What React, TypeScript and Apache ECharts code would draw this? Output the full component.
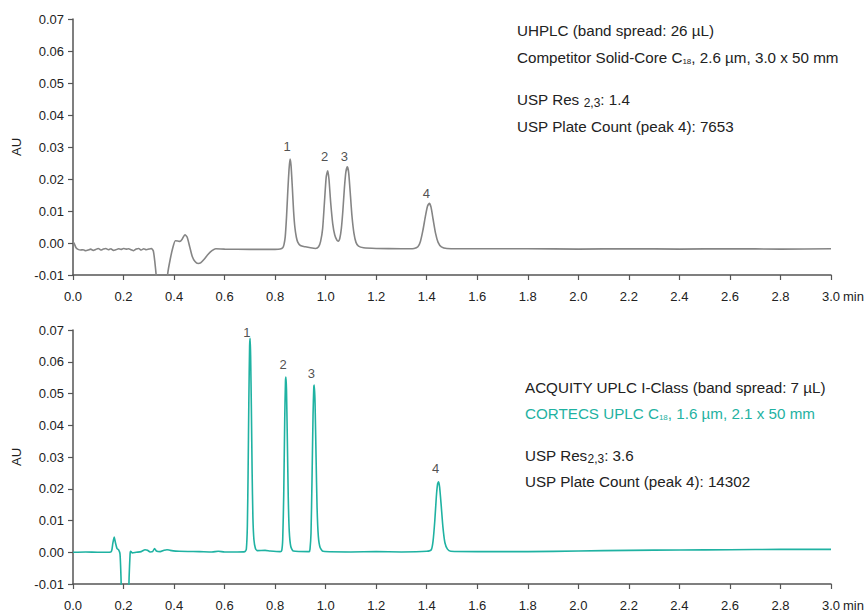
import React, { useEffect, useRef } from "react";
import * as echarts from "echarts";

// ---- data ----
const xTicksMin = 0;
const xTicksMax = 3;
const yMin = -0.01;
const yMax = 0.07;

// Top trace: competitor UHPLC (time min, AU)
const topTrace: [number, number][] = [
  [0.0, 0.0003], [0.005, -0.0002], [0.012, -0.0015], [0.02, -0.002], [0.03, -0.0022], [0.04, -0.0021],
  [0.05, -0.0024], [0.06, -0.0022], [0.07, -0.0019], [0.08, -0.0023], [0.09, -0.002], [0.1, -0.0017],
  [0.11, -0.0022], [0.12, -0.0019], [0.13, -0.0017], [0.14, -0.0021], [0.15, -0.0018], [0.16, -0.0023],
  [0.17, -0.0021], [0.18, -0.0018], [0.19, -0.002], [0.2, -0.0017], [0.21, -0.0019], [0.22, -0.0018],
  [0.23, -0.0021], [0.24, -0.0024], [0.25, -0.0019], [0.26, -0.0017], [0.27, -0.0022], [0.28, -0.0018],
  [0.29, -0.0021], [0.3, -0.0019], [0.31, -0.0017], [0.318, -0.0025], [0.324, -0.006], [0.33, -0.011],
  [0.335, -0.02], [0.345, -0.03], [0.36, -0.028], [0.368, -0.018], [0.375, -0.0095], [0.385, -0.005],
  [0.395, -0.0015], [0.405, 0.0007], [0.415, 0.0006], [0.423, 0.0005], [0.432, 0.0012], [0.443, 0.0026],
  [0.452, 0.0018], [0.462, -0.0012], [0.472, -0.0042], [0.483, -0.0058], [0.495, -0.0064], [0.505, -0.0062],
  [0.52, -0.005], [0.535, -0.0035], [0.55, -0.0024], [0.565, -0.0018], [0.6, -0.0019], [0.7, -0.002],
  [0.8, -0.002], [0.82, -0.0019],
  [0.83, -0.0015], [0.835, -0.0005], [0.84, 0.002], [0.845, 0.008], [0.85, 0.016], [0.855, 0.023],
  [0.859, 0.0262], [0.863, 0.0242], [0.868, 0.0175], [0.873, 0.01], [0.878, 0.005], [0.884, 0.0018],
  [0.89, 0.0002], [0.9, -0.0008], [0.92, -0.0012], [0.94, -0.0015], [0.96, -0.0017], [0.972, -0.0012],
  [0.98, 0.0005], [0.988, 0.0045], [0.995, 0.0125], [1.002, 0.0205], [1.008, 0.0226], [1.013, 0.02],
  [1.02, 0.0125], [1.028, 0.006], [1.036, 0.0025], [1.045, 0.0008], [1.05, 0.0006], [1.056, 0.0015],
  [1.062, 0.0045], [1.068, 0.01], [1.074, 0.017], [1.08, 0.0222], [1.086, 0.0238], [1.091, 0.022],
  [1.097, 0.016], [1.104, 0.0085], [1.112, 0.003], [1.12, 0.0002], [1.13, -0.001], [1.15, -0.0015],
  [1.2, -0.0017], [1.3, -0.0018], [1.35, -0.0017],
  [1.365, -0.0012], [1.375, 0.0005], [1.385, 0.004], [1.395, 0.0085], [1.403, 0.0115], [1.41, 0.0124],
  [1.417, 0.0112], [1.425, 0.0075], [1.435, 0.003], [1.445, 0.0002], [1.458, -0.0012], [1.48, -0.0017],
  [1.6, -0.0018], [1.8, -0.0018], [2.0, -0.0019], [2.2, -0.0018], [2.4, -0.0019], [2.6, -0.0018],
  [2.8, -0.0019], [3.0, -0.0018],
];

// Bottom trace: CORTECS on ACQUITY UPLC I-Class (time min, AU)
const bottomTrace: [number, number][] = [
  [0.0, 0.0], [0.05, 0.0001], [0.1, 0.0], [0.15, 0.0001], [0.154, 0.0008], [0.158, 0.003], [0.163, 0.0048],
  [0.168, 0.003], [0.174, 0.0012], [0.18, 0.0008], [0.186, -0.0005], [0.19, -0.008], [0.194, -0.02],
  [0.205, -0.03], [0.218, -0.02], [0.222, -0.008], [0.226, -0.0005], [0.228, 0.0003], [0.235, -0.0002],
  [0.25, 0.0], [0.27, 0.0002], [0.285, 0.0008], [0.295, 0.0006], [0.305, 0.0001], [0.315, 0.0002],
  [0.323, 0.0012], [0.33, 0.0004], [0.345, 0.0002], [0.36, 0.0006], [0.372, 0.0008], [0.385, 0.0006],
  [0.42, 0.0003], [0.5, 0.0002], [0.55, 0.0001], [0.575, 0.0003], [0.6, 0.0001], [0.65, 0.0001], [0.68, 0.0002],
  [0.686, 0.001], [0.69, 0.008], [0.693, 0.025], [0.696, 0.048], [0.699, 0.065], [0.701, 0.0674],
  [0.703, 0.062], [0.706, 0.045], [0.709, 0.025], [0.712, 0.011], [0.716, 0.004], [0.722, 0.0012],
  [0.73, 0.0005], [0.76, 0.0006], [0.78, 0.0004], [0.82, 0.0002],
  [0.826, 0.0005], [0.83, 0.004], [0.834, 0.018], [0.838, 0.042], [0.841, 0.054], [0.843, 0.0552],
  [0.845, 0.051], [0.848, 0.037], [0.852, 0.017], [0.856, 0.0065], [0.862, 0.0018], [0.872, 0.0004],
  [0.935, 0.0002],
  [0.938, 0.001], [0.942, 0.006], [0.946, 0.023], [0.95, 0.043], [0.953, 0.052], [0.955, 0.0527],
  [0.958, 0.047], [0.962, 0.03], [0.966, 0.014], [0.971, 0.005], [0.978, 0.0015], [0.99, 0.0003],
  [1.1, 0.0001], [1.2, 0.0002], [1.3, 0.0001], [1.4, 0.0003],
  [1.418, 0.0008], [1.425, 0.0035], [1.432, 0.01], [1.438, 0.0175], [1.443, 0.0215], [1.447, 0.0222],
  [1.451, 0.0205], [1.457, 0.015], [1.464, 0.008], [1.472, 0.003], [1.482, 0.001], [1.495, 0.0003],
  [1.6, 0.0002], [1.8, 0.0002], [2.0, 0.0004], [2.2, 0.0006], [2.4, 0.0007], [2.6, 0.0008],
  [2.8, 0.0009], [3.0, 0.0009],
];

// Peak labels (name, time, AU at apex)
const topPeakNames = ["1", "2", "3", "4"];
const topPeakTimes = [0.859, 1.008, 1.086, 1.41];
const topPeakHeights = [0.0262, 0.0226, 0.0238, 0.0124];
const bottomPeakNames = ["1", "2", "3", "4"];
const bottomPeakTimes = [0.7, 0.843, 0.955, 1.447];
const bottomPeakHeights = [0.0674, 0.0552, 0.0527, 0.0222];

const topNotes = {
  system: "UHPLC (band spread: 26 µL)",
  columnA: "Competitor Solid-Core C",
  columnSub: "18",
  columnB: ", 2.6 µm, 3.0 x 50 mm",
  res: "1.4",
  plate: "USP Plate Count (peak 4): 7653",
};
const bottomNotes = {
  system: "ACQUITY UPLC I-Class (band spread: 7 µL)",
  columnA: "CORTECS UPLC C",
  columnSub: "18",
  columnB: ", 1.6 µm, 2.1 x 50 mm",
  res: "3.6",
  plate: "USP Plate Count (peak 4): 14302",
};

const GREY = "#858585";
const TEAL = "#1fb2a2";
const TEXT = "#222";
const FONT = "'Liberation Sans', Arial, sans-serif";
const NOTE_SIZE = 15.2;

export default function App() {
  const ref = useRef<HTMLDivElement>(null);

  useEffect(() => {
    if (!ref.current) return;
    const chart = echarts.init(ref.current, null, { renderer: "svg" });

    const xAxisBase = (gridIndex: number) => ({
      type: "value" as const,
      gridIndex,
      min: xTicksMin,
      max: xTicksMax,
      interval: 0.2,
      axisLine: { show: true, onZero: false, lineStyle: { color: "#555", width: 1.5 } },
      axisTick: { show: true, length: 5, lineStyle: { color: "#555", width: 1.2 } },
      axisLabel: {
        color: TEXT,
        fontSize: 13,
        fontFamily: FONT,
        margin: 15,
        formatter: (v: number) => v.toFixed(1),
      },
      splitLine: { show: false },
    });
    const yAxisBase = (gridIndex: number) => ({
      type: "value" as const,
      gridIndex,
      min: yMin,
      max: yMax,
      interval: 0.01,
      name: "AU",
      nameLocation: "middle" as const,
      nameGap: 50,
      nameTextStyle: { color: TEXT, fontSize: 13, fontFamily: FONT },
      axisLine: { show: true, lineStyle: { color: "#555", width: 1.5 } },
      axisTick: { show: true, length: 5, lineStyle: { color: "#555", width: 1.2 } },
      axisLabel: {
        color: TEXT,
        fontSize: 13,
        fontFamily: FONT,
        margin: 9,
        formatter: (v: number) => v.toFixed(2),
      },
      splitLine: { show: false },
    });

    // label lift above each apex (styling only)
    const topLift = [6, 8, 4, 3];
    const bottomLift = [-1, 6, 5, 7];

    const peakSeries = (names: string[], times: number[], heights: number[], idx: number, lift: number[]) => ({
      type: "scatter" as const,
      xAxisIndex: idx,
      yAxisIndex: idx,
      symbolSize: 0,
      silent: true,
      data: names.map((n, i) => ({
        name: n,
        value: [times[i], heights[i]],
        label: { distance: lift[i] },
      })),
      label: {
        show: true,
        position: "top" as const,
        offset: [-3, 0],
        color: TEXT,
        fontSize: 13,
        fontFamily: FONT,
        formatter: (p: any) => p.name,
      },
    });

    const richBase = (color: string) => ({
      n: { fontSize: NOTE_SIZE, fontFamily: FONT, color },
      s: { fontSize: 8, fontFamily: FONT, padding: [9, 0, 0, 0], color },
      r: { fontSize: 12, fontFamily: FONT, padding: [8, 0, 0, 0], color },
      t: { fontSize: NOTE_SIZE, fontFamily: FONT, color: TEAL },
      ts: { fontSize: 8, fontFamily: FONT, padding: [9, 0, 0, 0], color: TEAL },
    });

    const txt = (x: number, y: number, text: string, rich?: any, fill = TEXT, size = NOTE_SIZE) => ({
      type: "text" as const,
      x,
      y,
      style: {
        text,
        fill,
        fontSize: size,
        fontFamily: FONT,
        verticalAlign: "middle",
        align: "left",
        rich,
      },
    });

    chart.setOption({
      animation: false,
      backgroundColor: "#fff",
      grid: [
        { left: 73, right: 34, top: 19, height: 256 },
        { left: 73, right: 34, top: 330, height: 255 },
      ],
      xAxis: [xAxisBase(0), xAxisBase(1)],
      yAxis: [yAxisBase(0), yAxisBase(1)],
      series: [
        {
          type: "line",
          xAxisIndex: 0,
          yAxisIndex: 0,
          data: topTrace,
          showSymbol: false,
          smooth: 0.2,
          clip: true,
          lineStyle: { color: GREY, width: 1.6 },
          silent: true,
        },
        {
          type: "line",
          xAxisIndex: 1,
          yAxisIndex: 1,
          data: bottomTrace,
          showSymbol: false,
          smooth: 0.2,
          clip: true,
          lineStyle: { color: TEAL, width: 1.6 },
          silent: true,
        },
        peakSeries(topPeakNames, topPeakTimes, topPeakHeights, 0, topLift),
        peakSeries(bottomPeakNames, bottomPeakTimes, bottomPeakHeights, 1, bottomLift),
      ],
      graphic: [
        txt(843, 296, "min", undefined, TEXT, 13),
        txt(843, 605, "min", undefined, TEXT, 13),
        txt(517, 30, topNotes.system),
        txt(517, 57, `{n|${topNotes.columnA}}{s|${topNotes.columnSub}}{n|${topNotes.columnB}}`, richBase(TEXT)),
        txt(517, 99, `{n|USP Res }{r|2,3}{n|: ${topNotes.res}}`, richBase(TEXT)),
        txt(517, 126, topNotes.plate),
        txt(525, 387, bottomNotes.system),
        txt(525, 413, `{t|${bottomNotes.columnA}}{ts|${bottomNotes.columnSub}}{t|${bottomNotes.columnB}}`, richBase(TEAL), TEAL),
        txt(525, 455, `{n|USP Res}{r|2,3}{n|: ${bottomNotes.res}}`, richBase(TEXT)),
        txt(525, 481, bottomNotes.plate),
      ],
    });

    return () => chart.dispose();
  }, []);

  return <div ref={ref} style={{ position: "absolute", left: 0, top: 0, width: 865, height: 612 }} />;
}
